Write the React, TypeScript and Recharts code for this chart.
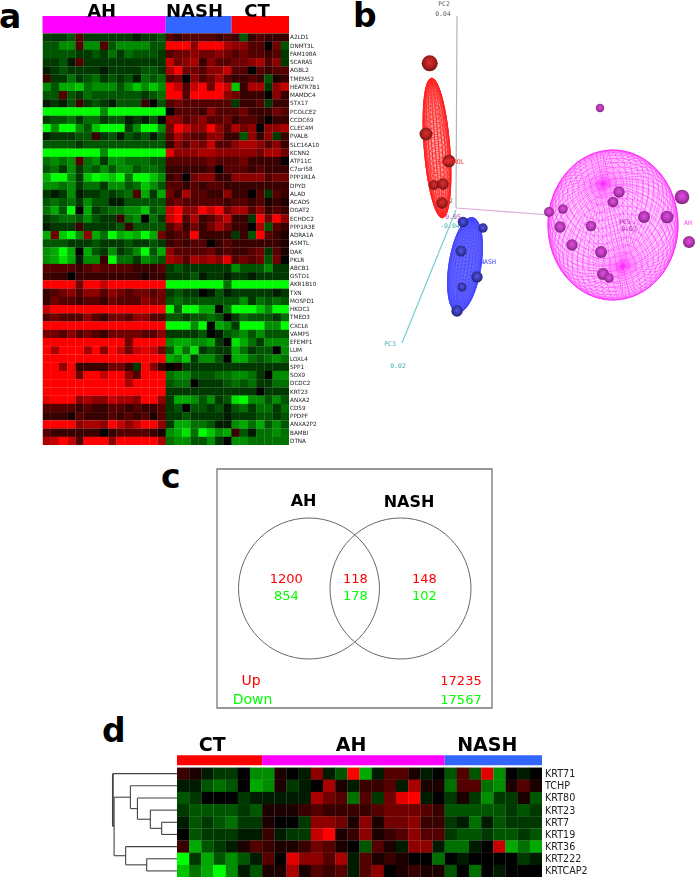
import { ReferenceArea, ReferenceDot, ReferenceLine, Scatter, ScatterChart, XAxis, YAxis } from "recharts"

// Panel a: expression heatmap, -9 (full green) to 9 (full red)
const genesA = [
  "A2LD1", "DNMT3L", "FAM198A", "SCARA5", "AGBL2", "TMEM52", "HEATR7B1", "MAMDC4", "STX17", "PCOLCE2",
  "CCDC69", "CLEC4M", "PVALB", "SLC16A10", "KCNN2", "ATP11C", "C7orf58", "PPP1R1A", "DPYD", "ALAD",
  "ACADS", "DGAT2", "ECHDC2", "PPP1R3E", "ADRA1A", "ASMTL", "DAK", "PKLR", "ABCB1", "GSTO1",
  "AKR1B10", "TXN", "MOSPD1", "HKDC1", "TMED3", "CXCL6", "VAMP5", "EFEMP1", "LUM", "LOXL4",
  "SPP1", "SOX9", "DCDC2", "KRT23", "ANXA2", "CD59", "PPDPF", "ANXA2P2", "BAMBI", "DTNA",
]

const ahA = [
  [-2,-2,-2,-3,3,-2,-2,-2,-2,-2,-2,-1,-2,-2,-3],
  [-3,-3,-5,-5,3,-5,-5,3,-3,-5,-5,-5,-5,-3,-3],
  [-3,-3,-3,-3,-2,-2,-3,-2,-4,-2,-4,-3,-3,-3,-2],
  [-2,-2,-3,-1,3,-2,-2,-2,-2,-2,-2,-2,-2,-2,-2],
  [-1,-2,-3,-2,-2,-2,-2,-1,-2,-2,-2,-2,-3,-3,-2],
  [2,-2,-2,-4,-2,-3,-4,-2,-3,-2,-3,-1,-4,-3,-4],
  [-5,-3,-6,-6,-7,-4,-5,-5,-5,-3,-5,-7,-5,-7,-5],
  [-3,-3,3,-3,-2,-4,-3,-3,-3,-3,-3,-3,-2,-3,-4],
  [-1,-2,-1,-3,2,-2,-3,-2,-1,-3,-3,-3,2,0,-3],
  [-9,-9,-9,-9,-9,-9,-9,-5,-9,-9,-9,-9,-9,-9,-9],
  [-2,-3,-3,-4,-2,-4,-4,-2,-3,-3,-1,-2,-1,-3,0],
  [-9,-5,-9,-9,-5,-3,-7,-9,-9,-9,-2,-5,-9,-9,-5],
  [-1,-2,-2,-2,-3,-3,2,-2,-3,-1,-3,-2,-3,-1,-3],
  [-3,-3,-3,-3,-2,-3,-3,-3,-3,-3,-3,-3,-3,-3,-3],
  [-9,-9,-9,-9,-9,-9,-9,-5,-9,-9,-9,-9,-9,-9,-9],
  [-4,-5,-4,-5,3,-4,-5,-2,-5,-5,-4,-4,-4,-3,-3],
  [-3,-4,-2,-5,-2,-4,-3,-5,-3,-5,-5,-3,-4,-4,-3],
  [-6,-9,-9,-5,-2,-7,-9,-8,-7,-9,-4,-9,-9,-7,-5],
  [-5,-5,-4,-5,-2,-4,-4,-2,-5,-5,-3,-4,-7,-5,-3],
  [-2,-1,-2,-5,-1,-2,-2,-3,-2,-3,-4,3,-6,-2,-6],
  [-3,-4,-3,-4,-2,-5,-3,-3,-1,-1,-3,-3,-3,-3,-3],
  [-4,-6,-3,-9,0,-6,-2,-3,-4,-4,-5,-5,-7,-3,-4],
  [-2,-3,-4,-4,-3,-5,-3,-2,-2,2,-4,-5,0,-4,-2],
  [-1,-2,-2,-2,2,-2,-2,-2,-2,-3,2,-3,-3,-3,-3],
  [-6,4,-7,-9,-5,5,-6,-4,-9,-6,-7,-6,-9,-6,4],
  [-3,-3,-3,-2,-2,-2,-3,-2,-2,-2,-3,-2,-2,-3,-2],
  [-5,-6,-9,-6,0,-6,-3,-2,-5,-2,-3,-5,-9,-3,-6],
  [-5,-6,-8,-6,-1,-5,-5,2,-9,-4,-4,-2,-5,-4,-3],
  [3,3,3,3,2,3,4,3,3,3,3,2,2,2,3],
  [2,2,2,0,2,2,2,2,2,2,2,2,1,2,2],
  [9,9,9,9,4,9,9,7,9,9,9,9,9,9,9],
  [2,3,4,5,3,5,5,3,5,4,3,4,4,3,4],
  [2,4,3,3,2,3,3,2,4,3,3,3,5,4,4],
  [7,9,9,9,9,9,9,9,9,9,9,9,9,9,9],
  [3,4,3,3,3,5,3,2,4,4,3,5,5,3,3],
  [9,9,9,9,9,9,9,9,9,9,9,9,9,9,9],
  [4,4,3,5,3,4,3,2,4,4,4,4,3,3,5],
  [9,9,9,9,9,9,9,9,9,9,4,9,9,9,9],
  [9,6,9,9,9,6,9,5,9,7,4,7,8,7,4],
  [9,9,9,9,9,9,9,9,9,9,9,9,9,9,9],
  [9,9,5,9,2,2,2,2,4,4,2,-2,9,5,2],
  [9,9,9,9,4,9,9,7,9,9,5,3,9,9,9],
  [9,9,9,9,9,9,9,9,9,9,6,9,9,9,9],
  [9,9,9,9,9,9,9,9,9,9,9,9,9,9,9],
  [8,9,9,9,5,6,5,5,7,6,6,5,9,9,5],
  [3,3,3,3,2,3,2,2,3,3,2,3,2,2,3],
  [2,2,2,1,3,2,2,2,3,2,3,2,3,1,3],
  [9,9,9,9,5,6,6,5,9,7,5,7,9,9,5],
  [3,2,2,2,2,2,2,0,2,3,3,3,3,2,1],
  [6,7,9,7,3,9,9,9,5,9,9,9,9,9,6],
]

const nashA = [
  [3,2,3,3,3,3,2,3], [9,9,9,5,9,9,9,6], [3,4,4,5,4,4,5,4], [7,4,5,6,2,5,3,3], [6,9,4,4,3,5,5,7],
  [3,4,0,5,3,4,6,3], [9,7,3,7,9,4,9,7], [9,9,3,9,9,9,9,5], [3,4,3,3,3,3,3,3], [0,3,3,3,2,5,3,3],
  [5,5,3,4,5,3,3,4], [4,9,7,5,5,9,5,3], [3,6,4,3,3,5,5,2], [2,5,3,5,4,7,3,3], [8,5,5,5,6,6,5,5],
  [3,3,3,3,3,4,3,3], [2,2,2,2,2,3,0,3], [2,3,0,4,5,5,2,2], [3,3,2,3,2,3,3,2], [4,2,6,3,3,2,2,5],
  [3,4,3,3,3,3,3,2], [7,9,5,5,9,7,9,4], [7,9,3,6,2,3,5,7], [3,5,2,4,2,4,6,4], [2,3,3,9,2,2,2,2],
  [2,3,2,3,3,0,2,3], [5,3,3,3,3,4,2,3], [6,5,3,6,5,6,5,8], [-2,-3,-2,-2,-2,-2,-2,-2], [-2,-2,-2,-3,-1,-2,-2,-1],
  [-9,-9,-9,-9,-9,-9,-9,-4], [-2,-3,-2,-2,0,-1,-3,-1], [-3,-4,-3,-3,-3,-3,-3,-3], [-9,-3,-9,-9,-6,-6,0,-4], [-3,-3,-2,-3,-3,-4,-3,0],
  [-9,-9,-9,-5,-9,0,-6,-5], [-2,-2,-2,-2,-3,0,-1,-3], [-5,-6,-6,-5,-5,-6,-2,0], [-3,-7,-4,-8,-2,-3,-2,-2], [-6,-5,-7,-2,-5,-5,-3,0],
  [0,1,-2,-2,-2,-2,-2,-2], [-4,-5,-5,-3,-3,-3,-4,-4], [-3,-4,-4,0,-2,-2,-2,-3], [-2,-2,-2,-2,-2,-2,-2,-2], [-2,-6,-6,-5,-3,-5,-2,-3],
  [-2,-3,0,-3,-3,-2,-3,-1], [-2,-2,-3,-2,-2,-2,-2,-1], [-2,-6,-6,-4,-4,-3,-1,-1], [-5,-6,-8,-4,-9,-7,-5,-6], [-4,-5,-5,-3,-3,-5,-2,0],
]

const ctA = [
  [2,-3,2,3,2,2,2], [5,5,3,3,0,4,-3], [3,4,3,3,2,3,-2], [4,4,5,6,3,5,-2], [3,3,0,3,2,3,3],
  [2,2,3,2,-3,1,2], [-7,2,6,6,-2,5,7], [4,2,2,2,0,5,2], [-2,2,2,3,-2,2,2], [3,4,2,2,2,4,3],
  [2,3,3,2,0,2,2], [6,4,5,0,5,5,6], [2,-3,5,2,5,-2,2], [5,6,6,5,3,5,2], [5,5,5,4,6,6,4],
  [3,4,2,2,2,2,0], [3,3,2,3,2,2,2], [5,5,5,5,3,4,4], [2,2,2,2,2,2,2], [2,2,0,3,-2,3,2],
  [3,3,2,3,1,2,1], [6,6,3,5,2,3,2], [2,2,-2,9,4,9,5], [2,2,0,6,-3,3,2], [-2,2,-3,9,3,2,1],
  [2,2,2,2,2,2,1], [2,2,3,4,-2,3,1], [3,4,3,4,-3,4,0], [-5,-3,-3,-3,-5,-2,-2], [-2,-2,-1,-2,-2,-2,-2],
  [-9,-9,-9,-9,-9,-9,-9], [-2,-2,-2,-2,-2,-1,-2], [-3,-5,-2,-4,-3,-4,-3], [-9,-9,-9,-7,-5,-9,-9], [-2,-4,-3,-3,-3,-2,-4],
  [-2,-9,-9,-9,-5,-5,-9], [-4,-5,-3,-5,-3,-3,-3], [-8,-6,-4,-2,-5,-5,-5], [-6,-4,-2,-3,-3,0,-5], [-6,-6,-4,-3,-4,-5,-4],
  [-2,-2,-2,-2,-2,-2,-2], [-5,-5,-4,-2,0,-5,-5], [-4,-3,-4,-2,-2,-4,-4], [-2,-2,-2,0,-2,-2,-2], [-8,-9,-5,-5,-3,-5,-3],
  [-3,-4,-2,-4,-4,-2,-4], [-2,-2,-2,-3,-3,-2,-3], [-5,-6,-4,-6,-3,-5,-3], [2,-3,-1,-4,-4,-5,-4], [-5,-5,-4,-4,-4,-4,-4],
]

// Panel d: keratin genes
const genesD = ["KRT71", "TCHP", "KRT80", "KRT23", "KRT7", "KRT19", "KRT36", "KRT222", "KRTCAP2"]
const ctD = [
  [2,1,-1,-2,-2,0,-5], [-1,-1,-3,-4,-3,0,-6], [-3,-2,0,0,0,-2,-1], [-2,-3,-3,-3,-3,-2,-3], [-1,-3,-2,-3,-4,-2,-2],
  [0,-3,-2,-2,-2,-1,-1], [2,-6,-3,-2,-1,1,3], [-9,-2,-6,-3,-5,-3,-1], [-7,-4,-6,-9,-5,-1,-3],
]
const ahD = [
  [-5,1,0,-1,5,-1,-3,9,-6,-1,3,3,1,-1,0],
  [-5,1,-2,-1,0,6,1,-1,2,2,3,-1,6,1,1],
  [-1,-1,-1,-1,6,4,3,-4,3,-2,4,8,9,-1,0],
  [1,1,1,2,3,2,2,2,2,3,4,4,4,3,2],
  [1,0,0,-2,5,5,4,1,5,1,4,4,5,2,2],
  [2,-1,-2,-2,7,9,1,2,5,1,2,3,5,3,3],
  [2,1,1,2,4,3,1,0,-3,3,1,-1,5,5,-1],
  [3,0,8,5,5,3,6,-1,3,1,2,1,0,0,-4],
  [1,1,6,1,3,2,3,-1,3,5,0,1,2,1,1],
]
const nashD = [
  [-3,3,-3,8,-5,0,-1,0], [-4,3,3,-4,-5,1,3,1], [-2,1,-2,-5,-2,-2,1,-3], [-3,-3,-3,-3,-3,-2,-3,-2], [-2,-1,-4,-1,-3,-2,-2,-2],
  [-2,-3,-3,-2,-3,-3,-2,-3], [-4,-4,-1,0,7,-6,-4,-6], [0,-1,0,0,0,0,-2,-1], [-3,0,-4,0,-1,0,0,0],
]

// Dendrogram merges: height in columns left of the heatmap, children are leaf rows or "m" + merge index
const dendroMerges: [number, string, string][] = [
  [-1.26, "4", "5"],
  [-2.19, "3", "m0"],
  [-3.25, "2", "m1"],
  [-3.83, "1", "m2"],
  [-2.49, "7", "8"],
  [-4.22, "6", "m4"],
  [-5.17, "m3", "m5"],
  [-5.27, "0", "m6"],
]

// Panel b: projected PCA samples [x, y, depth radius]
const controlSamples = [[84.7,63.3,8],[81,134,6.5],[104,161,6.3],[89,185,5],[98,184,5.8],[97,203,5.7]]
const nashSamples = [[118,222,5.3],[138,228,4.7],[116,251,5.5],[132,277,5.7],[117,287,4.5],[112,311,5.7]]
const ahSamples = [
  [255,108,4.2],[337,197,7.3],[274,192,5.7],[268,202,5.3],[218,209,4.8],[204,212,5],[215,227,5.7],[246,226,5.3],
  [299,217,6],[322,217,6.3],[344,242,6],[227,245,5.7],[256,252,6],[258,274,6],[264,278,4.7],
]
const pcaAxes = [
  { name: "PC2", from: [112, 16], to: [111, 208], color: "#b4b4b4" },
  { name: "PC1", from: [111, 208], to: [205, 215], color: "#dcaadc" },
  { name: "PC3", from: [111, 210], to: [57, 343], color: "#78cccc" },
]
const pcaLabels = [
  { text: "PC2", x: 99, y: 4, color: "#666" }, { text: "0.04", x: 98, y: 14, color: "#666" },
  { text: "PC3", x: 45, y: 344, color: "#44b0b0" }, { text: "0.02", x: 53, y: 366, color: "#44b0b0" },
  { text: "PC1", x: 280, y: 222, color: "#a040a0" }, { text: "0.07", x: 284, y: 229, color: "#a040a0" },
  { text: "AH", x: 343, y: 223, color: "#ff40ff" }, { text: "NASH", x: 143, y: 262, color: "#4040ff" },
  { text: "CONTROL", x: 106, y: 162, color: "#ff3030" }, { text: "0.05", x: 108, y: 217, color: "#b050b0" },
  { text: "-0.04", x: 105, y: 226, color: "#44b0b0" }, { text: "2", x: 106, y: 201, color: "#666" },
]

// Panel c: Venn counts
const vennSets = ["AH", "NASH"]
const vennUp = [1200, 118, 148]
const vennDown = [854, 178, 102]
const vennTotals = { Up: 17235, Down: 17567 }

const RED = "#ff0000"
const GREEN = "#00ff00"
const MAGENTA = "#ff00ff"
const BLUE = "#3366ff"
const FONT = "'DejaVu Sans', sans-serif"
const MONO = "'DejaVu Sans Mono', monospace"

function heatColor(v: number) {
  const level = Math.round((Math.abs(v) / 9) * 255)
  return v >= 0 ? `rgb(${level},0,0)` : `rgb(0,${level},0)`
}

function toCells(rows: number[][]) {
  return rows.flatMap((row, r) => row.map((value, c) => ({ x: c + 0.5, y: r + 0.5, value })))
}

function HeatCell(props: any, w: number, h: number) {
  const { cx, cy, payload } = props
  return <rect x={cx - w / 2} y={cy - h / 2} width={w + 0.2} height={h + 0.2} fill={heatColor(payload.value)} />
}

function Tag(x: number, y: number, value: any, fill: string, fontSize: number, fontWeight = "normal", fontFamily = FONT) {
  return (
    <ReferenceDot
      key={`${value}-${x}-${y}`}
      x={x}
      y={y}
      r={0.01}
      fill="none"
      stroke="none"
      ifOverflow="visible"
      label={{ value, fill, fontSize, fontWeight, fontFamily, position: "center" }}
    />
  )
}

// wire mesh of a projected ellipsoid, drawn around the scatter point
function WireEllipsoid(props: any, o: any) {
  const { cx, cy } = props
  const len = Math.hypot(...(o.axis as [number, number, number]))
  const w = o.axis.map((a: number) => a / len)
  let u = [w[1], -w[0], 0]
  const ul = Math.hypot(u[0], u[1]) || 1
  u = [u[0] / ul, u[1] / ul, 0]
  const v = [w[1] * u[2] - w[2] * u[1], w[2] * u[0] - w[0] * u[2], w[0] * u[1] - w[1] * u[0]]
  const rot = (o.tilt * Math.PI) / 180
  const pt = (theta: number, phi: number) => {
    const a = Math.sin(theta) * Math.cos(phi)
    const b = Math.sin(theta) * Math.sin(phi)
    const c = Math.cos(theta)
    const px = (a * u[0] + b * v[0] + c * w[0]) * o.rx
    const py = (a * u[1] + b * v[1] + c * w[1]) * o.ry
    return `${(cx + px * Math.cos(rot) - py * Math.sin(rot)).toFixed(2)} ${(cy + px * Math.sin(rot) + py * Math.cos(rot)).toFixed(2)}`
  }
  let d = ""
  for (let i = 1; i < o.lat; i++) {
    for (let j = 0; j <= 72; j++) {
      d += `${j ? "L" : "M"}${pt((Math.PI * i) / o.lat, (Math.PI * j) / 36)}`
    }
  }
  for (let j = 0; j < o.lon; j++) {
    for (let i = 0; i <= 48; i++) {
      d += `${i ? "L" : "M"}${pt((Math.PI * i) / 48, (2 * Math.PI * j) / o.lon)}`
    }
  }
  return (
    <g>
      <ellipse cx={cx} cy={cy} rx={o.rx} ry={o.ry} transform={`rotate(${o.tilt} ${cx} ${cy})`} fill={o.color} fillOpacity={o.fill} stroke={o.color} strokeWidth={0.9} />
      <path d={d} fill="none" stroke={o.color} strokeWidth={o.width} strokeOpacity={o.opacity} />
    </g>
  )
}

function Sphere(props: any, gradient: string) {
  return <circle cx={props.cx} cy={props.cy} r={props.payload.r} fill={`url(#${gradient})`} />
}

const toPoints = (rows: number[][]) => rows.map(([x, y, r]) => ({ x, y, r }))

function Ball(id: string, light: string, mid: string, dark: string) {
  return (
    <radialGradient id={id} cx="50%" cy="45%" r="55%">
      <stop offset="0%" stopColor={light} />
      <stop offset="55%" stopColor={mid} />
      <stop offset="100%" stopColor={dark} />
    </radialGradient>
  )
}

function PanelA() {
  const rows = genesA.map((_, i) => [...ahA[i], ...nashA[i], ...ctA[i]])
  const w = 246.5 / 30
  const h = 8.22
  return (
    <ScatterChart width={339} height={447} margin={{ top: 0, right: 2, bottom: 2, left: 42.5 }}>
      <XAxis type="number" dataKey="x" domain={[0, 30]} hide allowDataOverflow />
      <YAxis
        type="number"
        dataKey="y"
        domain={[-4.05, 50]}
        reversed
        orientation="right"
        width={48}
        ticks={genesA.map((_, i) => i + 0.5)}
        interval={0}
        tickFormatter={(t: number) => genesA[Math.floor(t)] ?? ""}
        axisLine={false}
        tickLine={false}
        tickSize={0}
        tickMargin={1}
        tick={{ fontSize: 5.7, fill: "#222", fontFamily: FONT }}
        allowDataOverflow
      />
      <Scatter data={toCells(rows)} isAnimationActive={false} shape={(p: any) => HeatCell(p, w, h)} />
      <ReferenceArea x1={0} x2={15} y1={-2.1} y2={0} fill={MAGENTA} fillOpacity={1} stroke="none" />
      <ReferenceArea x1={15} x2={23} y1={-2.1} y2={0} fill={BLUE} fillOpacity={1} stroke="none" />
      <ReferenceArea x1={23} x2={30} y1={-2.1} y2={0} fill={RED} fillOpacity={1} stroke="none" />
      <ReferenceLine segment={[{ x: 15, y: 0 }, { x: 15, y: 50 }]} stroke="#000" strokeWidth={1} strokeOpacity={0.7} />
      <ReferenceLine segment={[{ x: 23, y: 0 }, { x: 23, y: 50 }]} stroke="#000" strokeWidth={1} strokeOpacity={0.7} />
      {Tag(7.2, -2.78, "AH", "#000", 18, "bold")}
      {Tag(18.5, -2.78, "NASH", "#000", 18, "bold")}
      {Tag(26.1, -2.78, "CT", "#000", 18, "bold")}
    </ScatterChart>
  )
}

function PanelB() {
  return (
    <ScatterChart width={352} height={380} margin={{ top: 0, right: 0, bottom: 0, left: 0 }}>
      <defs>
        {Ball("ballRed", "#d83030", "#b02020", "#701414")}
        {Ball("ballBlue", "#5858e8", "#3838b0", "#24247c")}
        {Ball("ballPink", "#e04ee0", "#b838b8", "#7c247c")}
      </defs>
      <XAxis type="number" dataKey="x" domain={[0, 352]} hide allowDataOverflow />
      <YAxis type="number" dataKey="y" domain={[0, 380]} reversed hide allowDataOverflow />
      {pcaAxes.map((a) => (
        <ReferenceLine
          key={a.name}
          segment={[{ x: a.from[0], y: a.from[1] }, { x: a.to[0], y: a.to[1] }]}
          stroke={a.color}
          strokeWidth={1.2}
        />
      ))}
      <Scatter
        data={[{ x: 92, y: 148 }]}
        isAnimationActive={false}
        shape={(p: any) =>
          WireEllipsoid(p, { rx: 12.8, ry: 70, tilt: -4.5, axis: [0, -0.95, 0.3], lat: 44, lon: 22, color: "#ff2020", fill: 0.4, width: 0.7, opacity: 0.9 })
        }
      />
      <Scatter
        data={[{ x: 120, y: 265 }]}
        isAnimationActive={false}
        shape={(p: any) =>
          WireEllipsoid(p, { rx: 16, ry: 48, tilt: 9, axis: [0, -0.95, 0.3], lat: 40, lon: 28, color: "#4444ff", fill: 0.78, width: 0.5, opacity: 0.9 })
        }
      />
      <Scatter
        data={[{ x: 268, y: 225 }]}
        isAnimationActive={false}
        shape={(p: any) =>
          WireEllipsoid(p, { rx: 65, ry: 75, tilt: 0, axis: [-0.15, -0.55, 0.82], lat: 30, lon: 64, color: "#ff30ff", fill: 0.22, width: 0.6, opacity: 0.75 })
        }
      />
      <Scatter data={toPoints(controlSamples)} isAnimationActive={false} shape={(p: any) => Sphere(p, "ballRed")} />
      <Scatter data={toPoints(nashSamples)} isAnimationActive={false} shape={(p: any) => Sphere(p, "ballBlue")} />
      <Scatter data={toPoints(ahSamples)} isAnimationActive={false} shape={(p: any) => Sphere(p, "ballPink")} />
      {pcaLabels.map((l) => Tag(l.x, l.y, l.text, l.color, 6.5, "normal", MONO))}
    </ScatterChart>
  )
}

function PanelC() {
  const regionX = [69.3, 138.3, 207.3]
  const edge = { stroke: "#666", fill: "none" }
  return (
    <ScatterChart width={280} height={242} margin={{ top: 1, right: 2, bottom: 1, left: 2 }}>
      <XAxis type="number" dataKey="x" domain={[0, 276]} hide allowDataOverflow />
      <YAxis type="number" dataKey="y" domain={[0, 239]} reversed hide allowDataOverflow />
      <ReferenceArea x1={0} x2={275} y1={0} y2={238} fill="none" fillOpacity={0} stroke="#777" strokeWidth={1.3} />
      <ReferenceDot x={92} y={119} r={70.5} {...edge} strokeWidth={1} ifOverflow="visible" />
      <ReferenceDot x={183.5} y={119} r={70.5} {...edge} strokeWidth={1} ifOverflow="visible" />
      {Tag(86.6, 31.5, vennSets[0], "#000", 16, "bold")}
      {Tag(192, 32, vennSets[1], "#000", 16, "bold")}
      {vennUp.map((n, i) => Tag(regionX[i], 109, n, RED, 13))}
      {vennDown.map((n, i) => Tag(regionX[i], 126.3, n, GREEN, 13))}
      {Tag(34, 210.3, "Up", RED, 14)}
      {Tag(35.6, 229.3, "Down", GREEN, 14)}
      {Tag(244, 210.3, vennTotals.Up, RED, 13)}
      {Tag(244, 229.3, vennTotals.Down, GREEN, 13)}
    </ScatterChart>
  )
}

function PanelD() {
  const rows = genesD.map((_, i) => [...ctD[i], ...ahD[i], ...nashD[i]])
  const w = 365 / 30
  const h = 12.17
  const centers: Record<string, number> = {}
  genesD.forEach((_, i) => (centers[String(i)] = i + 0.5))
  const heights: Record<string, number> = {}
  const segments: { x1: number; y1: number; x2: number; y2: number; thick?: boolean }[] = []
  dendroMerges.forEach(([height, a, b], i) => {
    const ya = centers[a]
    const yb = centers[b]
    centers[`m${i}`] = (ya + yb) / 2
    heights[`m${i}`] = height
    segments.push({ x1: height, y1: ya, x2: height, y2: yb, thick: i === dendroMerges.length - 1 })
    segments.push({ x1: height, y1: ya, x2: heights[a] ?? 0, y2: ya })
    segments.push({ x1: height, y1: yb, x2: heights[b] ?? 0, y2: yb })
  })
  return (
    <ScatterChart width={602} height={153} margin={{ top: 0, right: 0, bottom: 1, left: 108 }}>
      <XAxis type="number" dataKey="x" domain={[-5.67, 30]} hide allowDataOverflow />
      <YAxis
        type="number"
        dataKey="y"
        domain={[-3.5, 9]}
        reversed
        orientation="right"
        width={60}
        ticks={genesD.map((_, i) => i + 0.5)}
        interval={0}
        tickFormatter={(t: number) => genesD[Math.floor(t)] ?? ""}
        axisLine={false}
        tickLine={false}
        tickSize={0}
        tickMargin={3}
        tick={{ fontSize: 9.6, fill: "#222", fontFamily: FONT }}
        allowDataOverflow
      />
      <Scatter data={toCells(rows)} isAnimationActive={false} shape={(p: any) => HeatCell(p, w, h)} />
      <ReferenceArea x1={0} x2={7} y1={-1.01} y2={-0.19} fill={RED} fillOpacity={1} stroke="none" />
      <ReferenceArea x1={7} x2={22} y1={-1.01} y2={-0.19} fill={MAGENTA} fillOpacity={1} stroke="none" />
      <ReferenceArea x1={22} x2={30} y1={-1.01} y2={-0.19} fill={BLUE} fillOpacity={1} stroke="none" />
      {segments.map((s, i) => (
        <ReferenceLine
          key={i}
          segment={[{ x: s.x1, y: s.y1 }, { x: s.x2, y: s.y2 }]}
          stroke="#444"
          strokeWidth={s.thick ? 1.8 : 1.1}
        />
      ))}
      {Tag(2.9, -1.95, "CT", "#000", 19, "bold")}
      {Tag(14.3, -1.95, "AH", "#000", 19, "bold")}
      {Tag(25.5, -1.95, "NASH", "#000", 19, "bold")}
    </ScatterChart>
  )
}

function PanelLetter({ text, x, baseline }: { text: string; x: number; baseline: number }) {
  return (
    <svg style={{ position: "absolute", left: x, top: baseline - 40, overflow: "visible" }} width={40} height={50}>
      <text x={0} y={40} fontSize={33} fontWeight="bold" fontFamily={FONT} fill="#000">
        {text}
      </text>
    </svg>
  )
}

const at = (left: number, top: number, blur: number) => ({ position: "absolute" as const, left, top, filter: `blur(${blur}px)` })

export default function App() {
  return (
    <div style={{ position: "absolute", left: 0, top: 0, width: 697, height: 878, background: "#fff", overflow: "hidden", fontFamily: FONT }}>
      <div style={at(0, 0, 0.75)}><PanelA /></div>
      <div style={at(345, 0, 0.6)}><PanelB /></div>
      <div style={at(214.7, 467.7, 0.35)}><PanelC /></div>
      <div style={at(0, 724.7, 0.5)}><PanelD /></div>
      <PanelLetter text="a" x={-1} baseline={28} />
      <PanelLetter text="b" x={353} baseline={27} />
      <PanelLetter text="c" x={161} baseline={488} />
      <PanelLetter text="d" x={102} baseline={742} />
    </div>
  )
}
